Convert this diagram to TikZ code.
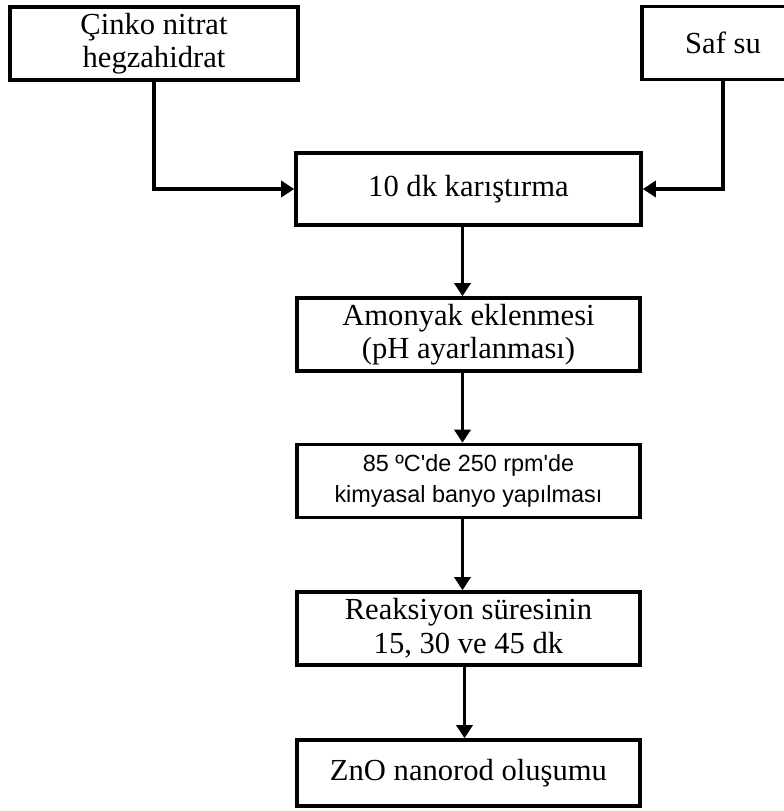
\documentclass[tikz,border=0pt]{standalone}
\usepackage{fontspec}
\setmainfont{Liberation Serif}
\newfontfamily\arialfont{Liberation Sans}
\usetikzlibrary{arrows.meta, positioning}

\begin{document}
\begin{tikzpicture}[
  x=0.5pt, y=-0.5pt,
  box/.style={draw, line width=1.8pt, inner sep=0pt, align=center,
              minimum width=171.5pt, minimum height=36.5pt,
              font=\fontsize{15.3}{16.8}\selectfont},
  arr/.style={-{Triangle[length=6.5pt, width=8pt]}, line width=1.8pt},
]
\useasboundingbox (0,0) rectangle (784,811);
\clip (0,0) rectangle (784,811);

% Inputs
\node[box, minimum width=144pt] (cinko) at (154, 43.5) {Çinko nitrat\\hegzahidrat};
\node[box, minimum width=81pt] (saf) at (723, 43) {Saf su};

% Flow
\node[box, minimum width=172.5pt, minimum height=36pt] (mix) at (468.5, 189) {10 dk karıştırma};
\node[box] (amonyak) at (468.5, 334.5) {Amonyak eklenmesi\\(pH ayarlanması)};
\node[box, font=\arialfont\fontsize{11.7}{15.5}\selectfont] (banyo) at (468.5, 481)
  {85 ºC\textquotesingle de 250 rpm\textquotesingle de\\kimyasal banyo yapılması};
\node[box] (sure) at (468.5, 628.5) {Reaksiyon süresinin\\ 15, 30 ve 45 dk};
\node[box, minimum height=33pt] (zno) at (468.5, 773) {ZnO nanorod oluşumu};

\draw[arr] (cinko.south) |- (mix.west);
\draw[arr] (saf.south) |- (mix.east);
\draw[arr] ([xshift=-3pt]mix.south) -- ([xshift=-3pt]amonyak.north);
\draw[arr] ([xshift=-3pt]amonyak.south) -- ([xshift=-3pt]banyo.north);
\draw[arr] ([xshift=-3pt]banyo.south) -- ([xshift=-3pt]sure.north);
\draw[arr] ([xshift=-2pt]sure.south) -- ([xshift=-2pt]zno.north);
\end{tikzpicture}
\end{document}
